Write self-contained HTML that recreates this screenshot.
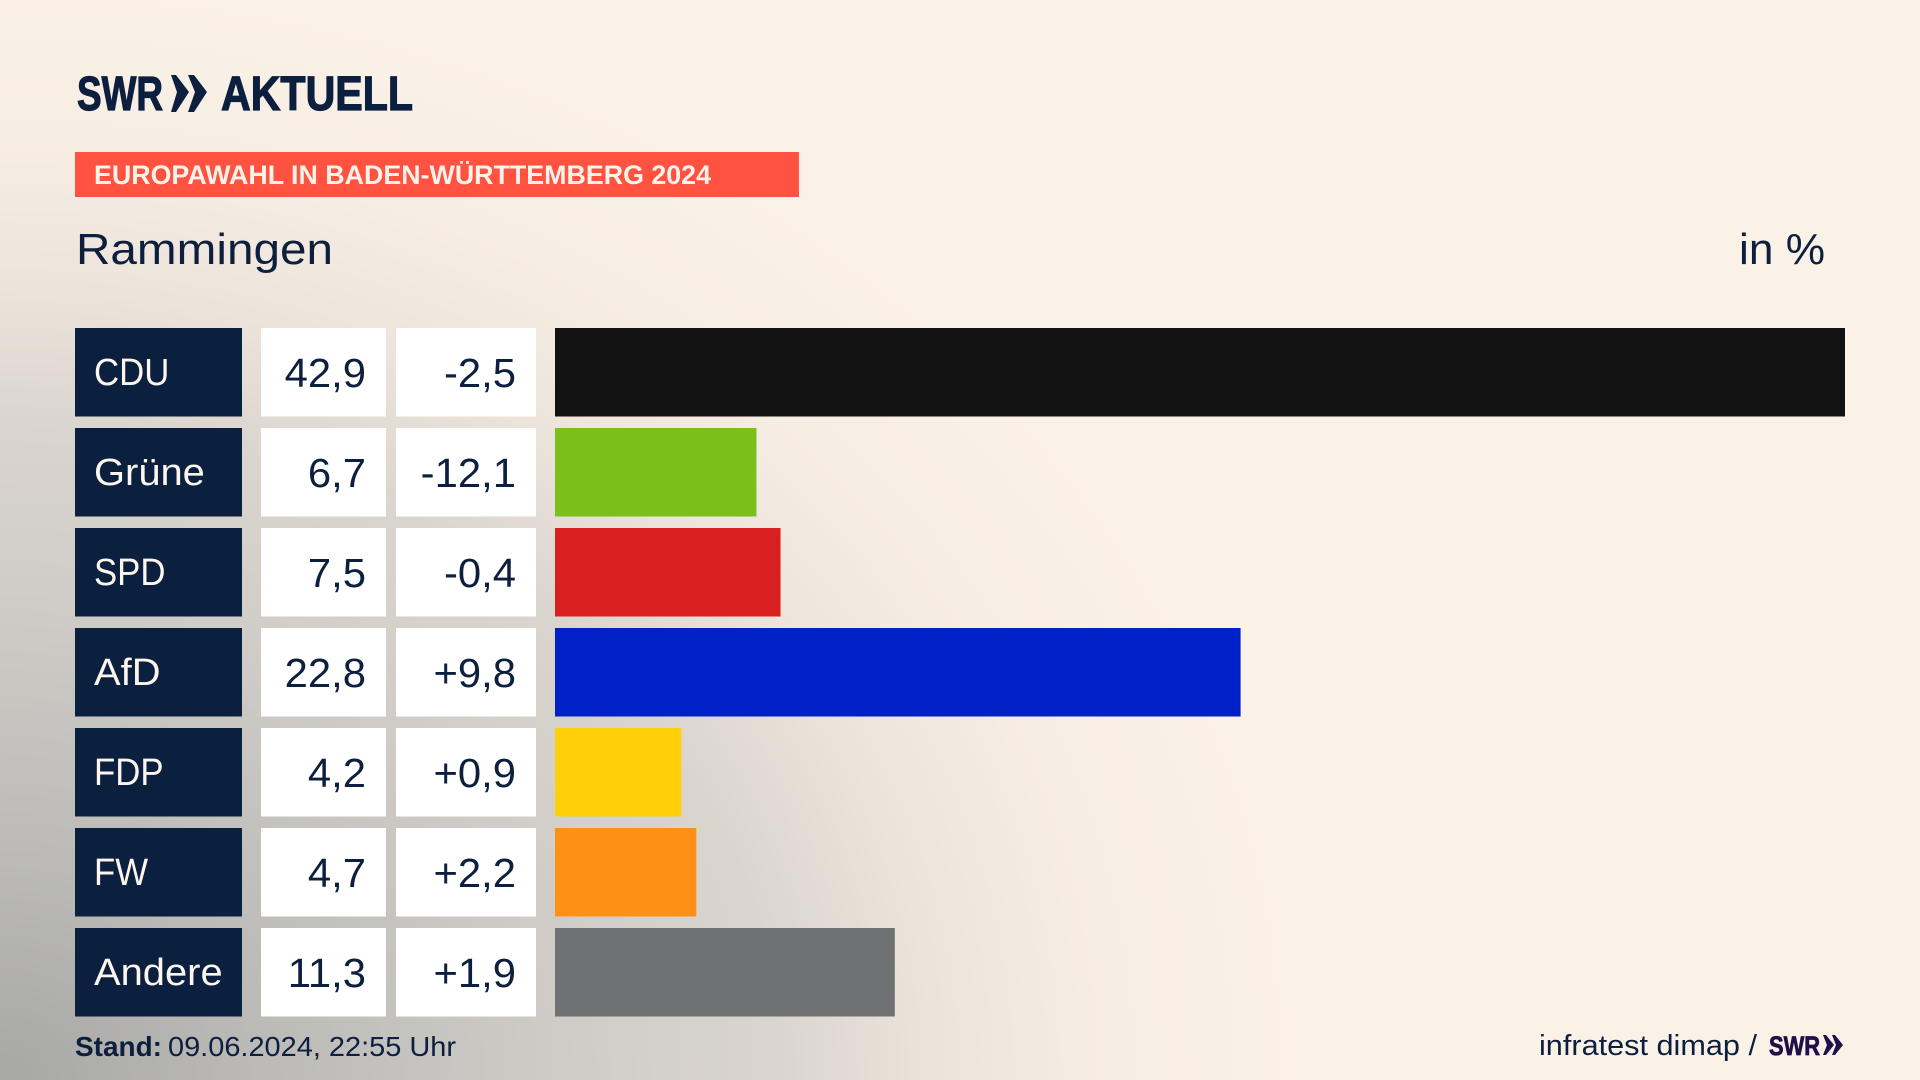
<!DOCTYPE html>
<html lang="de">
<head>
<meta charset="utf-8">
<title>Europawahl in Baden-Württemberg 2024 – Rammingen</title>
<style>
html,body{margin:0;padding:0;width:1920px;height:1080px;overflow:hidden;background:#faf1e7}
svg{display:block;position:absolute;left:0;top:0}
text{font-family:"Liberation Sans",sans-serif;fill:#0c1f3e}
</style>
</head>
<body>
<svg id="chart" width="1920" height="1080" viewBox="0 0 1920 1080" xmlns="http://www.w3.org/2000/svg">
  <defs>
    <radialGradient id="g1" gradientUnits="userSpaceOnUse" cx="0" cy="0" r="1" gradientTransform="translate(0 1080) scale(1300 1100)">
      <stop offset="0" stop-color="#a7a7a5"/>
      <stop offset="0.2" stop-color="#bbbab7"/>
      <stop offset="0.42" stop-color="#cecbc6"/>
      <stop offset="0.6" stop-color="#dad5ce"/>
      <stop offset="0.72" stop-color="#ece4db"/>
      <stop offset="0.85" stop-color="#f6ede3"/>
      <stop offset="1" stop-color="#faf1e7"/>
    </radialGradient>
  </defs>
  <rect x="0" y="0" width="1920" height="1080" fill="url(#g1)"/>

  <g>
    <text x="77" y="110" font-size="48" font-weight="700" textLength="86" lengthAdjust="spacingAndGlyphs" style="stroke:#0c1f3e;stroke-width:1.2">SWR</text>
    <polygon points="171,75 176,75 189,92 176,112 171,112 177,92" fill="#0c1f3e"/>
    <polygon points="188,75 194,75 207,92 194,112 188,112 195,92" fill="#0c1f3e"/>
    <text x="221" y="110" font-size="48" font-weight="700" textLength="192" lengthAdjust="spacingAndGlyphs" style="stroke:#0c1f3e;stroke-width:1.2">AKTUELL</text>
  </g>

  <rect x="75" y="152" width="724" height="45" fill="#ff5240"/>
  <text x="94" y="184" font-size="27" font-weight="700" textLength="617" lengthAdjust="spacingAndGlyphs" style="fill:#fdf3ea">EUROPAWAHL IN BADEN-WÜRTTEMBERG 2024</text>

  <text x="76" y="264" font-size="44" textLength="257" lengthAdjust="spacingAndGlyphs">Rammingen</text>
  <text x="1739" y="264" font-size="44" textLength="86" lengthAdjust="spacingAndGlyphs">in %</text>

  <g id="rows"></g>

  <text x="75" y="1056" font-size="28" font-weight="700" textLength="87" lengthAdjust="spacingAndGlyphs">Stand:</text>
  <text x="168" y="1056" font-size="28" textLength="288" lengthAdjust="spacingAndGlyphs">09.06.2024, 22:55 Uhr</text>

  <text x="1539" y="1055" font-size="29" textLength="218" lengthAdjust="spacingAndGlyphs">infratest dimap /</text>
  <g>
    <text x="1769" y="1055" font-size="27" font-weight="700" textLength="51" lengthAdjust="spacingAndGlyphs" style="fill:#20104a;stroke:#20104a;stroke-width:0.8">SWR</text>
    <polygon points="1823,1035 1826,1035 1834,1045 1826,1055 1823,1055 1827,1045" fill="#20104a"/>
    <polygon points="1832,1035 1835,1035 1843,1045 1835,1055 1832,1055 1836,1045" fill="#20104a"/>
  </g>
</svg>
<script>
const parties = ["CDU", "Grüne", "SPD", "AfD", "FDP", "FW", "Andere"];
const shares = [42.9, 6.7, 7.5, 22.8, 4.2, 4.7, 11.3];
const changes = [-2.5, -12.1, -0.4, 9.8, 0.9, 2.2, 1.9];
const colors = ["#121212", "#7abf1a", "#d7201f", "#0021c7", "#ffd00a", "#ff9016", "#707173"];

const NS = "http://www.w3.org/2000/svg";
const rowsGroup = document.getElementById("rows");
const barX0 = 555;
const pxPerPercent = 1290 / 42.9;
const rowTop = 328;
const rowPitch = 100;
const rowHeight = 88.5;

function xScale(v) { return v * pxPerPercent; }
function yScale(i) { return rowTop + i * rowPitch; }
function fmtShare(v) { return v.toFixed(1).replace(".", ","); }
function fmtChange(v) { return (v > 0 ? "+" : "") + v.toFixed(1).replace(".", ","); }
function labelStretch(name) { return /^[A-Z]+$/.test(name) ? 0.915 : 1.05; }
function makeRect(x, y, w, h, fill) {
  const r = document.createElementNS(NS, "rect");
  r.setAttribute("x", x);
  r.setAttribute("y", y);
  r.setAttribute("width", w);
  r.setAttribute("height", h);
  r.setAttribute("fill", fill);
  return r;
}
function makeText(str, x, y, anchor, size, sx, fill) {
  const t = document.createElementNS(NS, "text");
  t.textContent = str;
  t.setAttribute("font-size", size);
  t.setAttribute("text-anchor", anchor);
  t.setAttribute("transform", "translate(" + x + " " + y + ") scale(" + sx + " 1)");
  if (fill) t.style.fill = fill;
  return t;
}

parties.forEach(function (party, i) {
  const y = yScale(i);

  const labelBox = makeRect(75, y, 167, rowHeight, "#0b1f3f");
  
  
  rowsGroup.appendChild(labelBox);

  const label = makeText(party, 94, y + 57, "start", 38, labelStretch(party), "#fdf6ef");
  
  
  rowsGroup.appendChild(label);

  const shareBox = makeRect(261, y, 125, rowHeight, "#ffffff");
  
  
  rowsGroup.appendChild(shareBox);

  const share = makeText(fmtShare(shares[i]), 366, y + 59, "end", 41, 1.02);
  
  
  rowsGroup.appendChild(share);

  const changeBox = makeRect(396, y, 140, rowHeight, "#ffffff");
  
  
  rowsGroup.appendChild(changeBox);

  const change = makeText(fmtChange(changes[i]), 516, y + 59, "end", 41, 1.02);
  
  
  rowsGroup.appendChild(change);

  const bar = makeRect(barX0, y, xScale(shares[i]), rowHeight, colors[i]);
  
  
  rowsGroup.appendChild(bar);
});
</script>
</body>
</html>
